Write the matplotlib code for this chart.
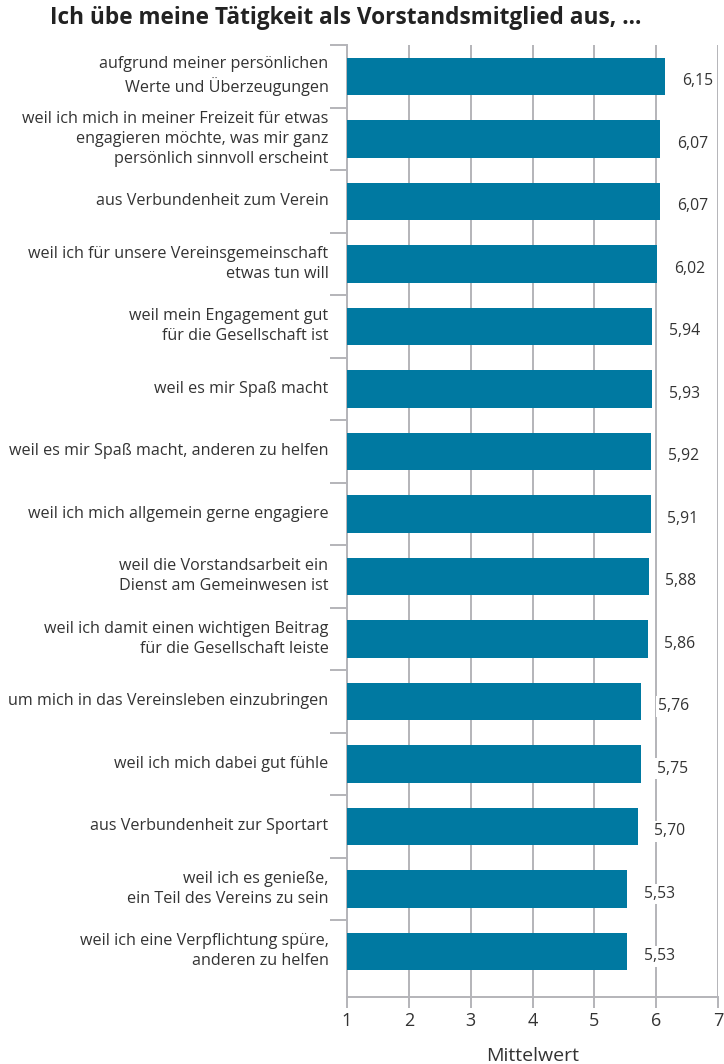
import matplotlib
matplotlib.use('Agg')
import matplotlib.pyplot as plt
import numpy as np

labels = [
    'aufgrund meiner persönlichen\nWerte und Überzeugungen',
    'weil ich mich in meiner Freizeit für etwas\nengagieren möchte, was mir ganz\npersönlich sinnvoll erscheint',
    'aus Verbundenheit zum Verein',
    'weil ich für unsere Vereinsgemeinschaft\netwas tun will',
    'weil mein Engagement gut\nfür die Gesellschaft ist',
    'weil es mir Spaß macht',
    'weil es mir Spaß macht, anderen zu helfen',
    'weil ich mich allgemein gerne engagiere',
    'weil die Vorstandsarbeit ein\nDienst am Gemeinwesen ist',
    'weil ich damit einen wichtigen Beitrag\nfür die Gesellschaft leiste',
    'um mich in das Vereinsleben einzubringen',
    'weil ich mich dabei gut fühle',
    'aus Verbundenheit zur Sportart',
    'weil ich es genieße,\nein Teil des Vereins zu sein',
    'weil ich eine Verpflichtung spüre,\nanderen zu helfen',
]
values = [6.15, 6.07, 6.07, 6.02, 5.94, 5.93, 5.92, 5.91, 5.88, 5.86, 5.76, 5.75, 5.70, 5.53, 5.53]

title = 'Ich übe meine Tätigkeit als Vorstandsmitglied aus, ...'
xlabel = 'Mittelwert'

bar_color = '#0079a1'
grid_color = '#b4b4b9'
text_color = '#333333'

plt.rcParams['font.family'] = ['Open Sans', 'DejaVu Sans']

fig = plt.figure(figsize=(7.24, 10.64), dpi=100)
ax = fig.add_axes([347 / 724, 67 / 1064, 371 / 724, 952 / 1064])

y = np.arange(len(values))
ax.barh(y, [v - 1 for v in values], left=1, height=0.6, color=bar_color, zorder=3)

for yi, v in zip(y, values):
    ax.text(v + 0.27, yi + 0.08, f'{v:.2f}'.replace('.', ','), va='center', ha='left',
            fontsize=11.3, color=text_color, zorder=4,
            bbox=dict(boxstyle='square,pad=0.15', fc='white', ec='none'))

ax.set_xlim(1, 7)
ax.set_ylim(len(values) - 0.27, -0.5)
ax.set_xticks(range(1, 8))
ax.tick_params(axis='x', colors=grid_color, labelcolor=text_color, labelsize=13, length=8, width=1.4, pad=3)
ax.grid(axis='x', color=grid_color, linewidth=1.4, zorder=0)

# kleine Striche links zwischen den Kategorien
ax.set_yticks(np.arange(-0.5, len(values) - 1, 1.0))
ax.set_yticklabels([])
ax.tick_params(axis='y', colors=grid_color, length=12, width=1.4)
for yi, lab in zip(y, labels):
    ax.text(-0.05, yi, lab, transform=ax.get_yaxis_transform(), ha='right', va='center',
            fontsize=11.6, color=text_color, linespacing=1.35)

for s in ['top', 'right']:
    ax.spines[s].set_visible(False)
for s in ['left', 'bottom']:
    ax.spines[s].set_color(grid_color)
    ax.spines[s].set_linewidth(1.4)

ax.set_xlabel(xlabel, fontsize=14, color=text_color, labelpad=12)

fig.text(50 / 724, 1 - 18 / 1064, title, fontsize=16.3, fontweight='bold', color='#222222',
         ha='left', va='center')

fig.savefig('out.png', dpi=100)
